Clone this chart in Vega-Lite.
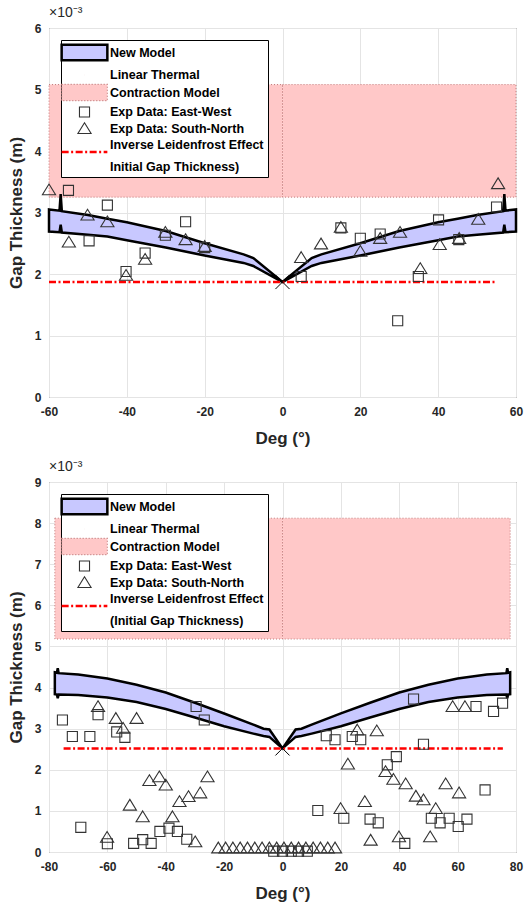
{
  "$schema": "https://vega.github.io/schema/vega-lite/v6.json",
  "padding": {"left": 6, "top": 5, "right": 5, "bottom": 0},
  "spacing": 12,
  "config": {
    "font": "Liberation Sans",
    "view": {"stroke": "#404040", "strokeWidth": 1},
    "axis": {"labelFont": "Liberation Sans", "labelFontWeight": "bold", "labelFontSize": 12, "labelColor": "#262626", "titleFont": "Liberation Sans", "titleFontWeight": "bold", "titleFontSize": 17, "titleColor": "#262626", "grid": true, "gridColor": "#e4e4e4", "domain": false, "ticks": false, "labelPadding": 8, "labelFlush": false, "labelOverlap": false},
    "axisX": {"labelPadding": 9, "titlePadding": 13},
    "axisY": {"titlePadding": 9},
    "legend": {"orient": "top-left", "offset": 12, "fillColor": "white", "strokeColor": "black", "padding": 4, "labelFont": "Liberation Sans", "labelFontWeight": "bold", "labelFontSize": 12.5, "labelColor": "black", "symbolSize": 240, "symbolStrokeWidth": 1.5, "rowPadding": 0.5, "symbolOffset": 11, "labelOffset": 17, "labelLimit": 400},
    "title": {"font": "Liberation Sans", "fontSize": 14, "fontWeight": "normal", "color": "#262626", "anchor": "start", "frame": "group", "offset": 2}
  },
  "datasets": {
    "band1": [
      {"x": -60, "hi": 3.05, "lo": 2.69, "series": "New Model"},
      {"x": -57.3, "hi": 3.03, "lo": 2.68, "series": "New Model"},
      {"x": -57, "hi": 3.30, "lo": 2.80, "series": "New Model"},
      {"x": -56.7, "hi": 3.02, "lo": 2.675, "series": "New Model"},
      {"x": -50, "hi": 2.96, "lo": 2.64, "series": "New Model"},
      {"x": -45, "hi": 2.90, "lo": 2.61, "series": "New Model"},
      {"x": -40, "hi": 2.84, "lo": 2.55, "series": "New Model"},
      {"x": -30, "hi": 2.70, "lo": 2.43, "series": "New Model"},
      {"x": -20, "hi": 2.50, "lo": 2.30, "series": "New Model"},
      {"x": -10, "hi": 2.32, "lo": 2.18, "series": "New Model"},
      {"x": -7.5, "hi": 2.26, "lo": 2.13, "series": "New Model"},
      {"x": 0, "hi": 1.87, "lo": 1.87, "series": "New Model"},
      {"x": 7.5, "hi": 2.26, "lo": 2.13, "series": "New Model"},
      {"x": 10, "hi": 2.32, "lo": 2.18, "series": "New Model"},
      {"x": 20, "hi": 2.50, "lo": 2.30, "series": "New Model"},
      {"x": 30, "hi": 2.70, "lo": 2.43, "series": "New Model"},
      {"x": 40, "hi": 2.84, "lo": 2.55, "series": "New Model"},
      {"x": 45, "hi": 2.90, "lo": 2.61, "series": "New Model"},
      {"x": 50, "hi": 2.96, "lo": 2.64, "series": "New Model"},
      {"x": 56.7, "hi": 3.02, "lo": 2.675, "series": "New Model"},
      {"x": 57, "hi": 3.30, "lo": 2.80, "series": "New Model"},
      {"x": 57.3, "hi": 3.03, "lo": 2.68, "series": "New Model"},
      {"x": 60, "hi": 3.05, "lo": 2.69, "series": "New Model"}
    ],
    "rect1": [
      {"x1": -60, "x2": 0, "y1": 3.25, "y2": 5.08, "series": "Linear Thermal"},
      {"x1": 0, "x2": 60, "y1": 3.25, "y2": 5.08, "series": "Linear Thermal"}
    ],
    "line1": [
      {"x1": -60, "x2": 55, "y": 1.87, "series": "Inverse Leidenfrost Effect"}
    ],
    "mark1": [{"x": 0, "y": 1.87}],
    "pts1": [
      {"x": -55, "y": 3.36, "series": "Exp Data: East-West"},
      {"x": -49.7, "y": 2.54, "series": "Exp Data: East-West"},
      {"x": -45, "y": 3.12, "series": "Exp Data: East-West"},
      {"x": -40.2, "y": 2.04, "series": "Exp Data: East-West"},
      {"x": -35.3, "y": 2.34, "series": "Exp Data: East-West"},
      {"x": -30.1, "y": 2.63, "series": "Exp Data: East-West"},
      {"x": -24.9, "y": 2.85, "series": "Exp Data: East-West"},
      {"x": -20, "y": 2.43, "series": "Exp Data: East-West"},
      {"x": 4.8, "y": 1.96, "series": "Exp Data: East-West"},
      {"x": 15, "y": 2.75, "series": "Exp Data: East-West"},
      {"x": 20, "y": 2.58, "series": "Exp Data: East-West"},
      {"x": 25.1, "y": 2.65, "series": "Exp Data: East-West"},
      {"x": 29.6, "y": 1.24, "series": "Exp Data: East-West"},
      {"x": 34.9, "y": 1.96, "series": "Exp Data: East-West"},
      {"x": 40.1, "y": 2.88, "series": "Exp Data: East-West"},
      {"x": 45.3, "y": 2.56, "series": "Exp Data: East-West"},
      {"x": 55, "y": 3.09, "series": "Exp Data: East-West"},
      {"x": -60, "y": 3.37, "series": "Exp Data: South-North"},
      {"x": -54.9, "y": 2.52, "series": "Exp Data: South-North"},
      {"x": -50.1, "y": 2.96, "series": "Exp Data: South-North"},
      {"x": -45, "y": 2.85, "series": "Exp Data: South-North"},
      {"x": -40.2, "y": 1.98, "series": "Exp Data: South-North"},
      {"x": -35.3, "y": 2.24, "series": "Exp Data: South-North"},
      {"x": -30.1, "y": 2.68, "series": "Exp Data: South-North"},
      {"x": -24.9, "y": 2.56, "series": "Exp Data: South-North"},
      {"x": -20, "y": 2.45, "series": "Exp Data: South-North"},
      {"x": 4.8, "y": 2.27, "series": "Exp Data: South-North"},
      {"x": 9.9, "y": 2.49, "series": "Exp Data: South-North"},
      {"x": 15, "y": 2.76, "series": "Exp Data: South-North"},
      {"x": 20, "y": 2.37, "series": "Exp Data: South-North"},
      {"x": 25.1, "y": 2.58, "series": "Exp Data: South-North"},
      {"x": 30.2, "y": 2.68, "series": "Exp Data: South-North"},
      {"x": 35.4, "y": 2.09, "series": "Exp Data: South-North"},
      {"x": 40.4, "y": 2.48, "series": "Exp Data: South-North"},
      {"x": 45.4, "y": 2.58, "series": "Exp Data: South-North"},
      {"x": 50.3, "y": 2.89, "series": "Exp Data: South-North"},
      {"x": 55.4, "y": 3.47, "series": "Exp Data: South-North"}
    ],
    "band2": [
      {"x": -78, "hi": 4.37, "lo": 3.84, "series": "New Model"},
      {"x": -77.3, "hi": 4.36, "lo": 3.83, "series": "New Model"},
      {"x": -77, "hi": 4.47, "lo": 3.74, "series": "New Model"},
      {"x": -76.7, "hi": 4.35, "lo": 3.83, "series": "New Model"},
      {"x": -70, "hi": 4.32, "lo": 3.82, "series": "New Model"},
      {"x": -60, "hi": 4.22, "lo": 3.76, "series": "New Model"},
      {"x": -50, "hi": 4.07, "lo": 3.65, "series": "New Model"},
      {"x": -40, "hi": 3.88, "lo": 3.48, "series": "New Model"},
      {"x": -30, "hi": 3.63, "lo": 3.27, "series": "New Model"},
      {"x": -20, "hi": 3.37, "lo": 3.06, "series": "New Model"},
      {"x": -10, "hi": 3.10, "lo": 2.88, "series": "New Model"},
      {"x": -6.5, "hi": 3.00, "lo": 2.82, "series": "New Model"},
      {"x": -4.5, "hi": 2.98, "lo": 2.80, "series": "New Model"},
      {"x": 0, "hi": 2.52, "lo": 2.52, "series": "New Model"},
      {"x": 4.5, "hi": 2.98, "lo": 2.80, "series": "New Model"},
      {"x": 6.5, "hi": 3.00, "lo": 2.82, "series": "New Model"},
      {"x": 10, "hi": 3.10, "lo": 2.88, "series": "New Model"},
      {"x": 20, "hi": 3.37, "lo": 3.06, "series": "New Model"},
      {"x": 30, "hi": 3.63, "lo": 3.27, "series": "New Model"},
      {"x": 40, "hi": 3.88, "lo": 3.48, "series": "New Model"},
      {"x": 50, "hi": 4.07, "lo": 3.65, "series": "New Model"},
      {"x": 60, "hi": 4.22, "lo": 3.76, "series": "New Model"},
      {"x": 70, "hi": 4.32, "lo": 3.82, "series": "New Model"},
      {"x": 76.7, "hi": 4.35, "lo": 3.83, "series": "New Model"},
      {"x": 77, "hi": 4.47, "lo": 3.74, "series": "New Model"},
      {"x": 77.3, "hi": 4.36, "lo": 3.83, "series": "New Model"},
      {"x": 78, "hi": 4.37, "lo": 3.84, "series": "New Model"}
    ],
    "rect2": [
      {"x1": -78, "x2": 0, "y1": 5.18, "y2": 8.12, "series": "Linear Thermal"},
      {"x1": 0, "x2": 78, "y1": 5.18, "y2": 8.12, "series": "Linear Thermal"}
    ],
    "line2": [
      {"x1": -75, "x2": 75.5, "y": 2.52, "series": "Inverse Leidenfrost Effect"}
    ],
    "mark2": [{"x": 0, "y": 2.52}],
    "pts2": [
      {"x": -75.4, "y": 3.21, "series": "Exp Data: East-West"},
      {"x": -72, "y": 2.81, "series": "Exp Data: East-West"},
      {"x": -66, "y": 2.81, "series": "Exp Data: East-West"},
      {"x": -63.2, "y": 3.34, "series": "Exp Data: East-West"},
      {"x": -56.8, "y": 2.92, "series": "Exp Data: East-West"},
      {"x": -54, "y": 2.79, "series": "Exp Data: East-West"},
      {"x": -69.1, "y": 0.6, "series": "Exp Data: East-West"},
      {"x": -60, "y": 0.2, "series": "Exp Data: East-West"},
      {"x": -51, "y": 0.21, "series": "Exp Data: East-West"},
      {"x": -47.9, "y": 0.3, "series": "Exp Data: East-West"},
      {"x": -45, "y": 0.21, "series": "Exp Data: East-West"},
      {"x": -42, "y": 0.5, "series": "Exp Data: East-West"},
      {"x": -38.9, "y": 0.58, "series": "Exp Data: East-West"},
      {"x": -36, "y": 0.5, "series": "Exp Data: East-West"},
      {"x": -32.8, "y": 0.31, "series": "Exp Data: East-West"},
      {"x": -29.6, "y": 3.54, "series": "Exp Data: East-West"},
      {"x": -26.8, "y": 3.21, "series": "Exp Data: East-West"},
      {"x": -3, "y": 0.02, "series": "Exp Data: East-West"},
      {"x": 0, "y": 0.02, "series": "Exp Data: East-West"},
      {"x": 3, "y": 0.02, "series": "Exp Data: East-West"},
      {"x": 5.5, "y": 0.02, "series": "Exp Data: East-West"},
      {"x": 8.5, "y": 0.02, "series": "Exp Data: East-West"},
      {"x": 15, "y": 2.83, "series": "Exp Data: East-West"},
      {"x": 18, "y": 2.73, "series": "Exp Data: East-West"},
      {"x": 23.9, "y": 2.81, "series": "Exp Data: East-West"},
      {"x": 26.8, "y": 2.73, "series": "Exp Data: East-West"},
      {"x": 12.1, "y": 1.01, "series": "Exp Data: East-West"},
      {"x": 21, "y": 0.82, "series": "Exp Data: East-West"},
      {"x": 30, "y": 0.8, "series": "Exp Data: East-West"},
      {"x": 32.8, "y": 0.71, "series": "Exp Data: East-West"},
      {"x": 35.9, "y": 2.12, "series": "Exp Data: East-West"},
      {"x": 39, "y": 2.32, "series": "Exp Data: East-West"},
      {"x": 41.9, "y": 0.21, "series": "Exp Data: East-West"},
      {"x": 44.9, "y": 3.72, "series": "Exp Data: East-West"},
      {"x": 48.3, "y": 2.62, "series": "Exp Data: East-West"},
      {"x": 51, "y": 0.82, "series": "Exp Data: East-West"},
      {"x": 54, "y": 0.71, "series": "Exp Data: East-West"},
      {"x": 57.1, "y": 0.82, "series": "Exp Data: East-West"},
      {"x": 60.2, "y": 0.62, "series": "Exp Data: East-West"},
      {"x": 63.2, "y": 0.8, "series": "Exp Data: East-West"},
      {"x": 66.3, "y": 3.54, "series": "Exp Data: East-West"},
      {"x": 69.4, "y": 1.51, "series": "Exp Data: East-West"},
      {"x": 72.3, "y": 3.42, "series": "Exp Data: East-West"},
      {"x": 75.4, "y": 3.62, "series": "Exp Data: East-West"},
      {"x": -63.2, "y": 3.54, "series": "Exp Data: South-North"},
      {"x": -57.1, "y": 3.25, "series": "Exp Data: South-North"},
      {"x": -54.6, "y": 3.01, "series": "Exp Data: South-North"},
      {"x": -50, "y": 3.25, "series": "Exp Data: South-North"},
      {"x": -60.1, "y": 0.36, "series": "Exp Data: South-North"},
      {"x": -52.3, "y": 1.14, "series": "Exp Data: South-North"},
      {"x": -47.9, "y": 0.86, "series": "Exp Data: South-North"},
      {"x": -45.6, "y": 1.74, "series": "Exp Data: South-North"},
      {"x": -42.2, "y": 1.83, "series": "Exp Data: South-North"},
      {"x": -40, "y": 1.63, "series": "Exp Data: South-North"},
      {"x": -37.7, "y": 0.86, "series": "Exp Data: South-North"},
      {"x": -35.3, "y": 1.23, "series": "Exp Data: South-North"},
      {"x": -32.2, "y": 1.35, "series": "Exp Data: South-North"},
      {"x": -28.2, "y": 1.44, "series": "Exp Data: South-North"},
      {"x": -25.7, "y": 1.83, "series": "Exp Data: South-North"},
      {"x": -29.9, "y": 0.25, "series": "Exp Data: South-North"},
      {"x": -22, "y": 0.1, "series": "Exp Data: South-North"},
      {"x": -19.5, "y": 0.1, "series": "Exp Data: South-North"},
      {"x": -17, "y": 0.1, "series": "Exp Data: South-North"},
      {"x": -14.5, "y": 0.1, "series": "Exp Data: South-North"},
      {"x": -12, "y": 0.1, "series": "Exp Data: South-North"},
      {"x": -9.5, "y": 0.1, "series": "Exp Data: South-North"},
      {"x": -7, "y": 0.1, "series": "Exp Data: South-North"},
      {"x": -4.5, "y": 0.1, "series": "Exp Data: South-North"},
      {"x": -2, "y": 0.1, "series": "Exp Data: South-North"},
      {"x": 0.5, "y": 0.1, "series": "Exp Data: South-North"},
      {"x": 3, "y": 0.1, "series": "Exp Data: South-North"},
      {"x": 5.5, "y": 0.1, "series": "Exp Data: South-North"},
      {"x": 8, "y": 0.1, "series": "Exp Data: South-North"},
      {"x": 10.5, "y": 0.1, "series": "Exp Data: South-North"},
      {"x": 13, "y": 0.1, "series": "Exp Data: South-North"},
      {"x": 15.5, "y": 0.1, "series": "Exp Data: South-North"},
      {"x": 18, "y": 0.1, "series": "Exp Data: South-North"},
      {"x": 25.6, "y": 2.97, "series": "Exp Data: South-North"},
      {"x": 32.3, "y": 2.95, "series": "Exp Data: South-North"},
      {"x": 22.4, "y": 2.14, "series": "Exp Data: South-North"},
      {"x": 19.9, "y": 1.06, "series": "Exp Data: South-North"},
      {"x": 28.2, "y": 1.23, "series": "Exp Data: South-North"},
      {"x": 30.2, "y": 0.29, "series": "Exp Data: South-North"},
      {"x": 35.3, "y": 1.96, "series": "Exp Data: South-North"},
      {"x": 38, "y": 1.77, "series": "Exp Data: South-North"},
      {"x": 42.2, "y": 1.66, "series": "Exp Data: South-North"},
      {"x": 45.7, "y": 1.36, "series": "Exp Data: South-North"},
      {"x": 48.3, "y": 1.27, "series": "Exp Data: South-North"},
      {"x": 39.9, "y": 0.37, "series": "Exp Data: South-North"},
      {"x": 50.6, "y": 0.37, "series": "Exp Data: South-North"},
      {"x": 52.5, "y": 1.06, "series": "Exp Data: South-North"},
      {"x": 55.9, "y": 1.66, "series": "Exp Data: South-North"},
      {"x": 60.5, "y": 1.44, "series": "Exp Data: South-North"},
      {"x": 58.3, "y": 3.54, "series": "Exp Data: South-North"},
      {"x": 62.5, "y": 3.54, "series": "Exp Data: South-North"}
    ]
  },
  "resolve": {
    "scale": {"fill": "independent", "stroke": "independent", "shape": "independent"},
    "legend": {"fill": "independent", "stroke": "independent", "shape": "independent"}
  },
  "vconcat": [
    {
      "width": 467,
      "height": 369,
      "title": {"text": "×10⁻³"},
      "layer": [
        {
          "data": {"name": "rect1"},
          "mark": {"type": "rect", "strokeWidth": 1, "strokeDash": [1, 2]},
          "encoding": {
            "x": {"field": "x1", "type": "quantitative", "scale": {"domain": [-60, 60]}, "axis": {"values": [-60, -40, -20, 0, 20, 40, 60], "title": "Deg (°)", "labelExpr": "'' + datum.value"}},
            "x2": {"field": "x2"},
            "y": {"field": "y1", "type": "quantitative", "scale": {"domain": [0, 6]}, "axis": {"values": [0, 1, 2, 3, 4, 5, 6], "title": "Gap Thickness (m)", "labelExpr": "'' + datum.value"}},
            "y2": {"field": "y2"},
            "fill": {"field": "series", "type": "nominal", "scale": {"domain": ["New Model", "Linear Thermal", "Contraction Model", "Exp Data: East-West", "Exp Data: South-North", "Inverse Leidenfrost Effect", " Initial Gap Thickness)"], "range": ["#c8c8ff", "#ffc8c8", "#ffc8c8", "transparent", "transparent", "transparent", "transparent"]}, "legend": {"title": null, "encode": {"symbols": {"update": {"strokeDash": {"signal": "(datum.value == 'Contraction Model' ? [1, 2] : (datum.value == 'Inverse Leidenfrost Effect' ? [7, 2.5, 2, 2.5] : null))"}, "strokeWidth": {"signal": "((datum.value == 'New Model' || datum.value == 'Inverse Leidenfrost Effect') ? 2.5 : 1.1)"}}}}}},
            "stroke": {"field": "series", "type": "nominal", "scale": {"domain": ["New Model", "Linear Thermal", "Contraction Model", "Exp Data: East-West", "Exp Data: South-North", "Inverse Leidenfrost Effect", " Initial Gap Thickness)"], "range": ["black", "#c07a7a", "#c07a7a", "#333333", "#333333", "red", "transparent"]}, "legend": {"title": null}}
          }
        },
        {
          "data": {"name": "band1"},
          "mark": {"type": "area", "strokeWidth": 2.5},
          "encoding": {
            "x": {"field": "x", "type": "quantitative"},
            "y": {"field": "hi", "type": "quantitative"},
            "y2": {"field": "lo"},
            "fill": {"field": "series", "type": "nominal"},
            "stroke": {"field": "series", "type": "nominal"}
          }
        },
        {
          "data": {"name": "line1"},
          "mark": {"type": "rule", "strokeWidth": 2.5, "strokeDash": [7, 2.5, 2, 2.5]},
          "encoding": {
            "x": {"field": "x1", "type": "quantitative"},
            "x2": {"field": "x2"},
            "y": {"field": "y", "type": "quantitative"},
            "stroke": {"field": "series", "type": "nominal"}
          }
        },
        {
          "data": {"name": "pts1"},
          "mark": {"type": "point", "size": 240, "strokeWidth": 1.1, "opacity": 1},
          "encoding": {
            "x": {"field": "x", "type": "quantitative"},
            "y": {"field": "y", "type": "quantitative"},
            "shape": {"field": "series", "type": "nominal", "scale": {"domain": ["New Model", "Linear Thermal", "Contraction Model", "Exp Data: East-West", "Exp Data: South-North", "Inverse Leidenfrost Effect", " Initial Gap Thickness)"], "range": ["M-2.95,-1H2.95V1H-2.95Z", "M0,0L0.01,0", "M-2.95,-1.05H2.95V1.05H-2.95Z", "M-0.65,-0.65H0.65V0.65H-0.65Z", "M0,-0.74L0.85,0.65H-0.85Z", "M-2.95,0.9H2.95", "M0,0L0.01,0"]}, "legend": {"title": null}},
            "fill": {"field": "series", "type": "nominal"},
            "stroke": {"field": "series", "type": "nominal"}
          }
        },
        {
          "data": {"name": "mark1"},
          "mark": {"type": "point", "size": 200, "strokeWidth": 1, "opacity": 1, "shape": "M-1,-1L1,1M-1,1L1,-1", "stroke": "black", "fill": "transparent"},
          "encoding": {
            "x": {"field": "x", "type": "quantitative"},
            "y": {"field": "y", "type": "quantitative"}
          }
        }
      ]
    },
    {
      "width": 467,
      "height": 370,
      "title": {"text": "×10⁻³"},
      "layer": [
        {
          "data": {"name": "rect2"},
          "mark": {"type": "rect", "strokeWidth": 1, "strokeDash": [1, 2]},
          "encoding": {
            "x": {"field": "x1", "type": "quantitative", "scale": {"domain": [-80, 80]}, "axis": {"values": [-80, -60, -40, -20, 0, 20, 40, 60, 80], "title": "Deg (°)", "labelExpr": "'' + datum.value"}},
            "x2": {"field": "x2"},
            "y": {"field": "y1", "type": "quantitative", "scale": {"domain": [0, 9]}, "axis": {"values": [0, 1, 2, 3, 4, 5, 6, 7, 8, 9], "title": "Gap Thickness (m)", "labelExpr": "'' + datum.value"}},
            "y2": {"field": "y2"},
            "fill": {"field": "series", "type": "nominal", "scale": {"domain": ["New Model", "Linear Thermal", "Contraction Model", "Exp Data: East-West", "Exp Data: South-North", "Inverse Leidenfrost Effect", " (Initial Gap Thickness)"], "range": ["#c8c8ff", "#ffc8c8", "#ffc8c8", "transparent", "transparent", "transparent", "transparent"]}, "legend": {"title": null, "encode": {"symbols": {"update": {"strokeDash": {"signal": "(datum.value == 'Contraction Model' ? [1, 2] : (datum.value == 'Inverse Leidenfrost Effect' ? [7, 2.5, 2, 2.5] : null))"}, "strokeWidth": {"signal": "((datum.value == 'New Model' || datum.value == 'Inverse Leidenfrost Effect') ? 2.5 : 1.1)"}}}}}},
            "stroke": {"field": "series", "type": "nominal", "scale": {"domain": ["New Model", "Linear Thermal", "Contraction Model", "Exp Data: East-West", "Exp Data: South-North", "Inverse Leidenfrost Effect", " (Initial Gap Thickness)"], "range": ["black", "#c07a7a", "#c07a7a", "#333333", "#333333", "red", "transparent"]}, "legend": {"title": null}}
          }
        },
        {
          "data": {"name": "band2"},
          "mark": {"type": "area", "strokeWidth": 2.5},
          "encoding": {
            "x": {"field": "x", "type": "quantitative"},
            "y": {"field": "hi", "type": "quantitative"},
            "y2": {"field": "lo"},
            "fill": {"field": "series", "type": "nominal"},
            "stroke": {"field": "series", "type": "nominal"}
          }
        },
        {
          "data": {"name": "line2"},
          "mark": {"type": "rule", "strokeWidth": 2.5, "strokeDash": [7, 2.5, 2, 2.5]},
          "encoding": {
            "x": {"field": "x1", "type": "quantitative"},
            "x2": {"field": "x2"},
            "y": {"field": "y", "type": "quantitative"},
            "stroke": {"field": "series", "type": "nominal"}
          }
        },
        {
          "data": {"name": "pts2"},
          "mark": {"type": "point", "size": 240, "strokeWidth": 1.1, "opacity": 1},
          "encoding": {
            "x": {"field": "x", "type": "quantitative"},
            "y": {"field": "y", "type": "quantitative"},
            "shape": {"field": "series", "type": "nominal", "scale": {"domain": ["New Model", "Linear Thermal", "Contraction Model", "Exp Data: East-West", "Exp Data: South-North", "Inverse Leidenfrost Effect", " (Initial Gap Thickness)"], "range": ["M-2.95,-1H2.95V1H-2.95Z", "M0,0L0.01,0", "M-2.95,-1.05H2.95V1.05H-2.95Z", "M-0.65,-0.65H0.65V0.65H-0.65Z", "M0,-0.74L0.85,0.65H-0.85Z", "M-2.95,0.9H2.95", "M0,0L0.01,0"]}, "legend": {"title": null}},
            "fill": {"field": "series", "type": "nominal"},
            "stroke": {"field": "series", "type": "nominal"}
          }
        },
        {
          "data": {"name": "mark2"},
          "mark": {"type": "point", "size": 200, "strokeWidth": 1, "opacity": 1, "shape": "M-1,-1L1,1M-1,1L1,-1", "stroke": "black", "fill": "transparent"},
          "encoding": {
            "x": {"field": "x", "type": "quantitative"},
            "y": {"field": "y", "type": "quantitative"}
          }
        }
      ]
    }
  ]
}
